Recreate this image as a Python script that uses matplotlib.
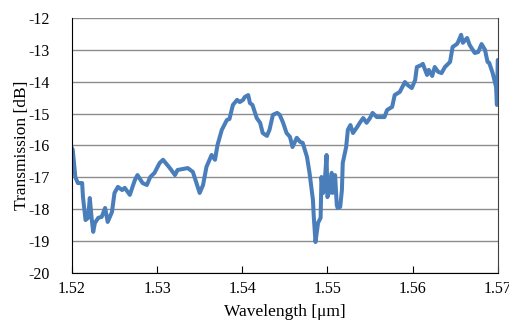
import matplotlib
matplotlib.use("Agg")
import matplotlib.pyplot as plt

plt.rcParams['font.family'] = ['Liberation Serif', 'DejaVu Serif']
plt.rcParams['axes.unicode_minus'] = False

# wavelength [um] and transmission [dB]
wavelength = [1.5200, 1.5201, 1.5204, 1.5207, 1.5212, 1.5213, 1.5216, 1.5219, 1.5221, 1.5223,
              1.5225, 1.5227, 1.5231, 1.5235, 1.5239, 1.5242, 1.5247, 1.5250, 1.5254, 1.5259,
              1.5262, 1.5268, 1.5274, 1.5277, 1.5283, 1.5288, 1.5292, 1.5297, 1.5303, 1.5307,
              1.5312, 1.5315, 1.5321, 1.5324, 1.5330, 1.5336, 1.5342, 1.5347, 1.5350, 1.5354,
              1.5358, 1.5364, 1.5368, 1.5371, 1.5376, 1.5382, 1.5385, 1.5389, 1.5394, 1.5397,
              1.5401, 1.5403, 1.5407, 1.5409, 1.5412, 1.5417, 1.5421, 1.5424, 1.5429, 1.5432,
              1.5436, 1.5441, 1.5444, 1.5448, 1.5452, 1.5456, 1.5459, 1.5464, 1.5468, 1.5471,
              1.5476, 1.5479, 1.5483, 1.5484, 1.5486, 1.5489, 1.5492, 1.5493, 1.5495, 1.5497,
              1.5499, 1.5500, 1.5503, 1.5505, 1.5506, 1.5509, 1.5511, 1.5512, 1.5515, 1.5517,
              1.5518, 1.5522, 1.5524, 1.5527, 1.5530, 1.5535, 1.5538, 1.5542, 1.5546, 1.5550,
              1.5553, 1.5558, 1.5564, 1.5567, 1.5570, 1.5576, 1.5579, 1.5585, 1.5591, 1.5594,
              1.5599, 1.5603, 1.5605, 1.5611, 1.5612, 1.5617, 1.5619, 1.5623, 1.5626, 1.5630,
              1.5634, 1.5638, 1.5644, 1.5647, 1.5652, 1.5653, 1.5657, 1.5659, 1.5664, 1.5667,
              1.5673, 1.5677, 1.5681, 1.5685, 1.5688, 1.5690, 1.5694, 1.5698, 1.5699, 1.5700]
transmission = [-16.08, -16.14, -16.99, -17.18, -17.18, -17.62, -18.34, -18.27, -17.65, -18.24,
                -18.71, -18.43, -18.27, -18.24, -17.96, -18.40, -18.09, -17.49, -17.30, -17.40,
                -17.33, -17.55, -17.08, -16.93, -17.18, -17.24, -16.99, -16.86, -16.55, -16.45,
                -16.61, -16.71, -16.93, -16.77, -16.74, -16.71, -16.83, -17.24, -17.49, -17.24,
                -16.67, -16.30, -16.45, -15.98, -15.51, -15.20, -15.17, -14.73, -14.57, -14.64,
                -14.57, -14.48, -14.42, -14.67, -14.73, -15.14, -15.29, -15.61, -15.70, -15.51,
                -15.04, -14.98, -15.04, -15.29, -15.61, -15.73, -16.05, -15.76, -15.89, -15.92,
                -16.36, -16.86, -17.71, -18.24, -19.03, -18.43, -18.27, -16.99, -17.49, -17.08,
                -16.30, -17.62, -17.40, -16.86, -17.49, -16.93, -17.87, -17.96, -17.93, -17.40,
                -16.55, -16.05, -15.51, -15.36, -15.61, -15.42, -15.29, -15.14, -15.29, -15.14,
                -14.98, -15.11, -15.11, -15.11, -14.89, -14.79, -14.42, -14.32, -14.01, -14.10,
                -14.20, -13.95, -13.54, -13.47, -13.44, -13.79, -13.63, -13.82, -13.54, -13.69,
                -13.73, -13.54, -13.38, -12.91, -12.82, -12.78, -12.53, -12.78, -12.63, -12.85,
                -13.10, -13.07, -12.82, -13.00, -13.38, -13.41, -13.73, -14.16, -14.73, -13.32]

xticks = [1.52, 1.53, 1.54, 1.55, 1.56, 1.57]
yticks = [-20, -19, -18, -17, -16, -15, -14, -13, -12]

fig = plt.figure(figsize=(5.1, 3.2), dpi=100)
ax = fig.add_axes([0.141, 0.147, 0.835, 0.797])

ax.plot(wavelength, transmission, color='#4a7ebb', linewidth=2.9,
        solid_joinstyle='round', solid_capstyle='round')
ax.set_xlim(1.52, 1.57)
ax.set_ylim(-20, -12)
ax.set_xticks(xticks)
ax.set_xticklabels(["%.2f" % t for t in xticks])
ax.set_yticks(yticks)
ax.set_yticklabels([str(t) for t in yticks])
ax.yaxis.grid(True, color='#8c8c8c', linewidth=1)
ax.set_axisbelow(True)
ax.tick_params(axis='x', direction='in', length=5, width=0.8, labelsize=11.5, pad=6)
ax.tick_params(axis='y', length=0, labelsize=11.5, pad=16)
ax.spines['top'].set_visible(False)
ax.spines['right'].set_color('#404040')
ax.spines['left'].set_color('black')
ax.spines['bottom'].set_color('black')
ax.set_xlabel("Wavelength [μm]", fontsize=12.5, labelpad=5)
ax.set_ylabel("Transmission [dB]", fontsize=12.5, labelpad=-1)

fig.savefig("out.png", dpi=100)
